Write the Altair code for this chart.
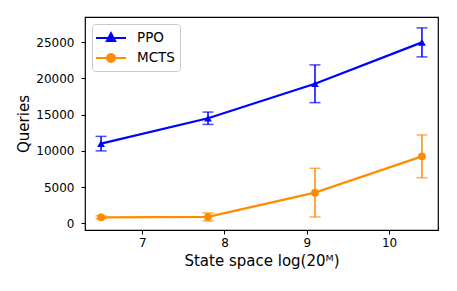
import altair as alt
import pandas as pd

x_vals = [6.5, 7.8, 9.1, 10.4]
ppo_mean = [11000, 14500, 19250, 24950]
ppo_err = [1000, 850, 2600, 2000]
mcts_mean = [850, 900, 4250, 9250]
mcts_err = [200, 550, 3350, 2950]
series = ["PPO", "MCTS"]
colors = ["#0000ff", "#ff8c00"]
shapes = ["triangle-up", "circle"]
legend_paths = [
    "M-1.875,0H1.875M0,-0.6L0.52,0.38H-0.52Z",
    "M-1.875,0H1.875M0.5,0A0.5,0.5,0,1,1,-0.5,0A0.5,0.5,0,1,1,0.5,0Z",
]

rows = []
for name, means, errs in [("PPO", ppo_mean, ppo_err), ("MCTS", mcts_mean, mcts_err)]:
    for xv, m, e in zip(x_vals, means, errs):
        rows.append({"x": xv, "y": m, "lo": m - e, "hi": m + e, "series": name})
df = pd.DataFrame(rows)

xs = alt.Scale(domain=[6.305, 10.595], nice=False, zero=False)
ys = alt.Scale(domain=[-900, 28450], nice=False, zero=False)
cscale = alt.Scale(domain=series, range=colors)

X = alt.X("x:Q", scale=xs, title="State space log(20ᴹ)",
          axis=alt.Axis(values=[7, 8, 9, 10], format="d"))
Y = alt.Y("y:Q", scale=ys, title="Queries",
          axis=alt.Axis(values=[0, 5000, 10000, 15000, 20000, 25000], format="d"))

base = alt.Chart(df)

lines = base.mark_line(strokeWidth=2.2).encode(
    x=X, y=Y, color=alt.Color("series:N", scale=cscale, legend=None), detail="series:N")

bars = base.mark_rule(strokeWidth=1.5).encode(
    x="x:Q", y=alt.Y("lo:Q"), y2="hi:Q",
    color=alt.Color("series:N", scale=cscale, legend=None))
cap_lo = base.mark_tick(size=11, thickness=1.5, orient="horizontal").encode(
    x="x:Q", y=alt.Y("lo:Q"), color=alt.Color("series:N", scale=cscale, legend=None))
cap_hi = base.mark_tick(size=11, thickness=1.5, orient="horizontal").encode(
    x="x:Q", y=alt.Y("hi:Q"), color=alt.Color("series:N", scale=cscale, legend=None))

pts = base.mark_point(filled=True, size=60, opacity=1).encode(
    x="x:Q", y="y:Q",
    color=alt.Color("series:N", scale=cscale, legend=None),
    shape=alt.Shape("series:N", scale=alt.Scale(domain=series, range=shapes), legend=None))

leg = base.mark_point(filled=True, opacity=0).encode(
    x="x:Q", y="y:Q",
    fill=alt.Fill("series:N", scale=alt.Scale(domain=series, range=colors),
                  legend=alt.Legend(title=None)),
    stroke=alt.Stroke("series:N", scale=alt.Scale(domain=series, range=colors),
                      legend=alt.Legend(title=None)),
    shape=alt.Shape("series2:N", scale=alt.Scale(domain=series, range=legend_paths),
                    legend=alt.Legend(title=None)),
).transform_calculate(series2="datum.series")

chart = alt.layer(lines, bars, cap_lo, cap_hi, pts, leg).resolve_scale(
    shape="independent", fill="independent", stroke="independent"
).properties(
    width=353, height=213,
    autosize=alt.AutoSizeParams(type="none"),
    padding={"left": 77, "top": 9, "right": 11, "bottom": 53},
).configure_view(stroke="black", strokeWidth=1.2).configure_axis(
    grid=False, domain=False, tickColor="black", tickSize=4, tickWidth=1,
    labelFont="DejaVu Sans", labelFontSize=12, labelColor="black",
    titleFont="DejaVu Sans", titleFontSize=15, titleColor="black", titleFontWeight="normal",
).configure_axisY(labelPadding=7, titlePadding=4).configure_axisX(labelPadding=3, titlePadding=5
).configure_legend(
    orient="top-left", offset=7, strokeColor="#c8c8c8", fillColor="white", cornerRadius=3,
    padding=5, symbolSize=256, symbolOffset=5, symbolStrokeWidth=2, symbolOpacity=1,
    labelFontSize=13.5, labelFont="DejaVu Sans", labelColor="black", labelOffset=17,
    rowPadding=3,
)

chart.save("out.html", embed_options={"renderer": "svg", "actions": False})
